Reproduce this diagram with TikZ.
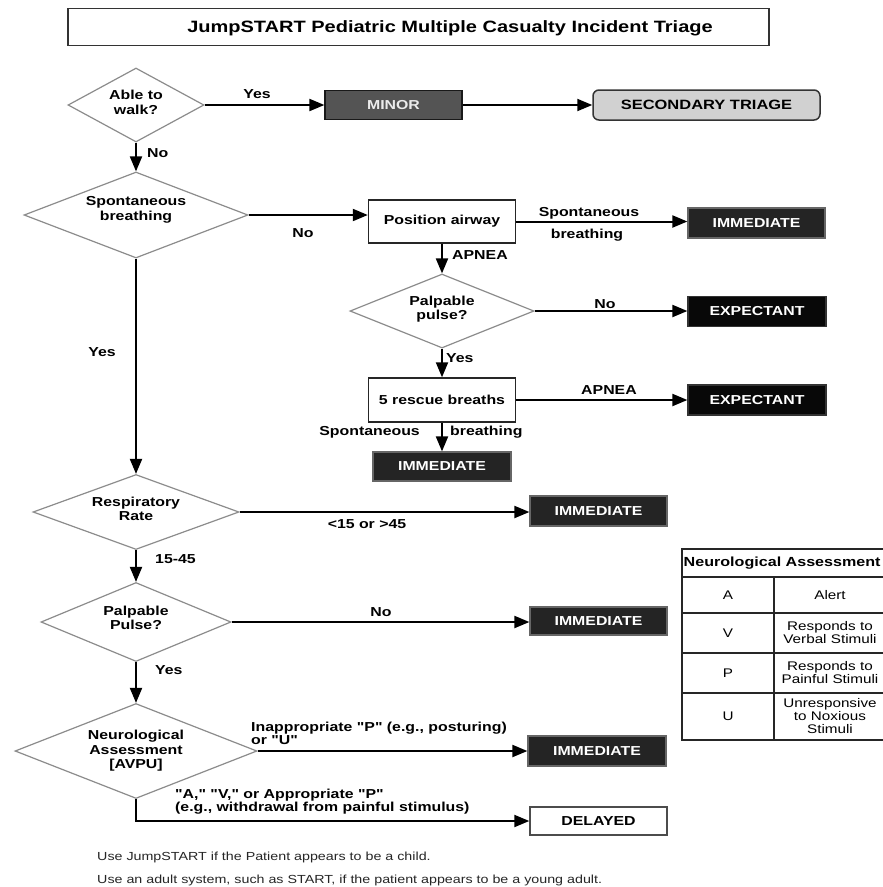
\documentclass[tikz,border=0pt]{standalone}
\usepackage{fontspec}
\setmainfont{Liberation Sans}[FakeStretch=1.22, Ligatures=TeXOff]
\usetikzlibrary{shapes.geometric,arrows.meta}
\begin{document}
\begin{tikzpicture}[x=1pt,y=-1pt,
  lbl/.style={font=\fontsize{13}{14}\selectfont\bfseries, inner sep=0pt},
  dtext/.style={font=\fontsize{13}{14.5}\selectfont\bfseries, inner sep=0pt, align=center},
  dia/.style={shape=diamond, draw=black!45, line width=1.2pt, fill=white, inner sep=0pt},
  whitebox/.style={draw=black!85, line width=1.4pt, fill=white, inner sep=0pt, font=\fontsize{13}{14}\selectfont\bfseries},
  darkbox/.style={draw=black!60, line width=1.2pt, fill=black!86, text=white, inner sep=0pt, font=\fontsize{13}{14}\selectfont\bfseries, minimum width=137pt, minimum height=30pt},
  expbox/.style={darkbox, fill=black!97, draw=black!80},
  arr/.style={line width=2pt, -{Triangle[length=15pt,width=12pt]}},
  cell/.style={font=\fontsize{12.5}{13}\selectfont, align=center, inner sep=0pt},
  foot/.style={font=\fontsize{11.7}{13}\selectfont, text=black!85, inner sep=0pt, anchor=west},
]
\useasboundingbox (0,0) rectangle (883,887);
\fill[white] (0,0) rectangle (883,887);
\clip (0,0) rectangle (883,887);

% title
\node[draw=black!80, line width=1.8pt, minimum width=701pt, minimum height=37pt, inner sep=0pt] (titlebox) at (418.5,27) {};
\node[font=\fontsize{16.4}{18}\selectfont\bfseries, inner sep=0pt] (title) at (450,28) {JumpSTART Pediatric Multiple Casualty Incident Triage};

% diamonds
\node[dia, minimum width=136pt, minimum height=74pt] (walk) at (136,105) {};
\node[dtext, yshift=2.5pt] (walkT) at (walk.center) {Able to\\walk?};
\node[dia, minimum width=224pt, minimum height=86pt] (spont) at (136,215) {};
\node[dtext, yshift=5pt] (spontT) at (spont.center) {Spontaneous\\breathing};
\node[dia, minimum width=184pt, minimum height=74pt] (pp1) at (442,311) {};
\node[dtext, yshift=2pt] (pp1T) at (pp1.center) {Palpable\\pulse?};
\node[dia, minimum width=206pt, minimum height=75pt] (resp) at (136,512) {};
\node[dtext, yshift=3pt] (respT) at (resp.center) {Respiratory\\Rate};
\node[dia, minimum width=190pt, minimum height=79pt] (pulse) at (136,622) {};
\node[dtext, yshift=4pt] (pulseT) at (pulse.center) {Palpable\\Pulse?};
\node[dia, minimum width=242pt, minimum height=95pt] (neuro) at (136,751) {};
\node[dtext] (neuroT) at (neuro.center) {Neurological\\Assessment\\{[AVPU]}};

% boxes
\node[darkbox, fill=black!67, draw=black!90, minimum width=137pt, minimum height=29pt, text=black!8] (minor) at (393.5,105) {MINOR};
\node[draw=black!80, line width=1.5pt, fill=black!18, rounded corners=6pt, minimum width=227pt, minimum height=30pt, inner sep=0pt, font=\fontsize{13.5}{14}\selectfont\bfseries] (sec) at (706.5,105) {SECONDARY TRIAGE};
\node[whitebox, minimum width=147pt, minimum height=43pt] (pa) at (442,221.5) {Position airway};
\node[darkbox] (imm1) at (756.5,223) {IMMEDIATE};
\node[expbox, minimum width=138pt] (exp1) at (757,311.5) {EXPECTANT};
\node[whitebox, minimum width=147pt, minimum height=44pt] (rb) at (442,400) {5 rescue breaths};
\node[expbox, minimum width=138pt] (exp2) at (757,400) {EXPECTANT};
\node[darkbox, minimum width=138pt, minimum height=29pt] (imm2) at (442,466.5) {IMMEDIATE};
\node[darkbox] (imm3) at (598.5,511) {IMMEDIATE};
\node[darkbox, minimum height=28pt] (imm4) at (598.5,621) {IMMEDIATE};
\node[darkbox, minimum width=138pt] (imm5) at (597,751) {IMMEDIATE};
\node[whitebox, draw=black!70, minimum width=137pt, minimum height=28pt] (delayed) at (598.5,821) {DELAYED};

% connectors
\draw[arr] (walk.east) -- (minor.west);
\draw[arr] (minor.east) -- (sec.west);
\draw[arr] (walk.south) -- (spont.north);
\draw[arr] (spont.east) -- (spont.east -| pa.west);
\draw[arr] (pa.east) -- (pa.east -| imm1.west);
\draw[arr] (pa.south) -- (pp1.north);
\draw[arr] (pp1.east) -- (pp1.east -| exp1.west);
\draw[arr] (pp1.south) -- (rb.north);
\draw[arr] (rb.east) -- (rb.east -| exp2.west);
\draw[arr] (rb.south) -- (imm2.north);
\draw[arr] (spont.south) -- (resp.north);
\draw[arr] (resp.east) -- (resp.east -| imm3.west);
\draw[arr] (resp.south) -- (pulse.north);
\draw[arr] (pulse.east) -- (pulse.east -| imm4.west);
\draw[arr] (pulse.south) -- (neuro.north);
\draw[arr] (neuro.east) -- (neuro.east -| imm5.west);
\draw[arr] (neuro.south) |- (delayed.west);

% labels
\node[lbl] (l1) at (257,94) {Yes};
\node[lbl, anchor=west] (l2) at (147,153) {No};
\node[lbl] (l3) at (303,233) {No};
\node[lbl] (l4) at (589,213) {Spontaneous};
\node[lbl] (l5) at (587,235) {breathing};
\node[lbl, anchor=west] (l6) at (452,255) {APNEA};
\node[lbl] (l7) at (605,304) {No};
\node[lbl, anchor=west] (l8) at (446,358) {Yes};
\node[lbl] (l9) at (609,390) {APNEA};
\node[lbl, anchor=east] (l10) at (420,432) {Spontaneous};
\node[lbl, anchor=west] (l11) at (450,432) {breathing};
\node[lbl] (l12) at (102,352) {Yes};
\node[lbl] (l13) at (367,524) {<15 or >45};
\node[lbl, anchor=west] (l14) at (155,559) {15-45};
\node[lbl] (l15) at (381,612) {No};
\node[lbl, anchor=west] (l16) at (155,670) {Yes};
\node[lbl, anchor=west, align=left, font=\fontsize{13}{13}\selectfont\bfseries] (l17) at (251,733.5) {Inappropriate "P" (e.g., posturing)\\or "U"};
\node[lbl, anchor=west, align=left, font=\fontsize{13}{13}\selectfont\bfseries] (l18) at (175,801.5) {"A," "V," or Appropriate "P"\\(e.g., withdrawal from painful stimulus)};

% footer
\node[foot] (f1) at (97,857) {Use JumpSTART if the Patient appears to be a child.};
\node[foot] (f2) at (97,880) {Use an adult system, such as START, if the patient appears to be a young adult.};

% neurological assessment table
\draw[black!85, line width=1.3pt] (682,549) rectangle (888,740);
\draw[black!85, line width=1.3pt] (682,577) -- (888,577);
\draw[black!85, line width=1.3pt] (682,613) -- (888,613);
\draw[black!85, line width=1.3pt] (682,653) -- (888,653);
\draw[black!85, line width=1.3pt] (682,693) -- (888,693);
\draw[black!85, line width=1.3pt] (774,577) -- (774,740);
\node[font=\fontsize{13.2}{14}\selectfont\bfseries, inner sep=0pt, anchor=west] (th) at (683.5,563) {Neurological Assessment};
\node[cell] (ta) at (728,595) {A};
\node[cell] (tat) at (830,595) {Alert};
\node[cell] (tv) at (728,633) {V};
\node[cell] (tvt) at (830,633) {Responds to\\Verbal Stimuli};
\node[cell] (tp) at (728,673) {P};
\node[cell] (tpt) at (830,673) {Responds to\\Painful Stimuli};
\node[cell] (tu) at (728,716.5) {U};
\node[cell] (tut) at (830,716.5) {Unresponsive\\to Noxious\\Stimuli};
\end{tikzpicture}
\end{document}
